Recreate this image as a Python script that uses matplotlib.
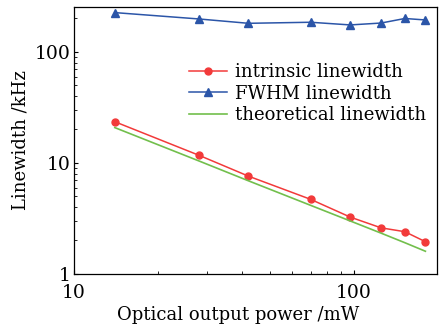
import numpy as np
import matplotlib
matplotlib.use('Agg')
import matplotlib.pyplot as plt
from matplotlib.ticker import FuncFormatter, NullFormatter

# optical output power (mW)
power = [14, 28, 42, 70, 97, 125, 152, 180]
# linewidths (kHz)
intrinsic = [23.5, 11.7, 7.6, 4.7, 3.25, 2.6, 2.4, 1.95]
fwhm = [226, 198, 181, 185, 175, 182, 200, 194]
theoretical = [20.8, 10.4, 6.9, 4.15, 3.0, 2.33, 1.91, 1.6]

plt.rcParams['font.family'] = ['DejaVu Serif']

fig = plt.figure(figsize=(4.45, 3.32), dpi=100)
ax = fig.add_axes([0.166, 0.175, 0.816, 0.804])

ax.plot(power, intrinsic, color='#f23a3a', marker='o', markersize=5, lw=1.1, label='intrinsic linewidth')
ax.plot(power, fwhm, color='#2b55a8', marker='^', markersize=5.5, lw=1.1, label='FWHM linewidth')
ax.plot(power, theoretical, color='#72bf4c', lw=1.2, label='theoretical linewidth')

ax.set_xscale('log')
ax.set_yscale('log')
ax.set_xlim(10, 198)
ax.set_ylim(1, 254)

fmt = FuncFormatter(lambda v, p: '%g' % v)
ax.xaxis.set_major_formatter(fmt)
ax.yaxis.set_major_formatter(fmt)
ax.xaxis.set_minor_formatter(NullFormatter())
ax.yaxis.set_minor_formatter(NullFormatter())

ax.tick_params(which='both', direction='in', top=False, right=False, labelsize=13.5)
ax.tick_params(axis='x', which='both', pad=7)
ax.tick_params(axis='y', which='both', pad=2)
ax.tick_params(which='major', length=3)
ax.tick_params(which='minor', length=2)
for s in ax.spines.values():
    s.set_linewidth(0.9)

ax.set_xlabel('Optical output power /mW', fontsize=13)
ax.xaxis.set_label_coords(0.452, -0.12)
ax.set_ylabel('Linewidth /kHz', fontsize=13, labelpad=4)

ax.legend(loc='upper right', bbox_to_anchor=(1.0, 0.83), frameon=False, fontsize=13,
          handlelength=2.1, handletextpad=0.45, labelspacing=0.2, borderaxespad=0.2)

fig.savefig('out.png', dpi=100)
